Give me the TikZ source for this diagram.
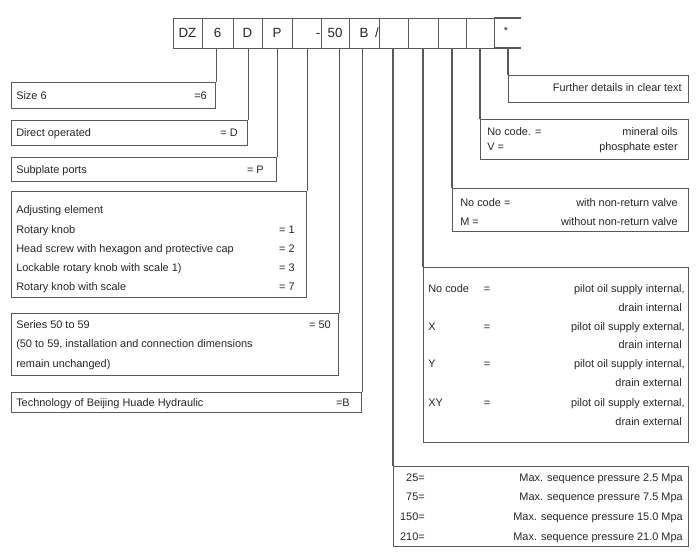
\documentclass[tikz,border=0pt]{standalone}
\usepackage{fontspec}
\setmainfont{Liberation Sans}
\newdimen\px \px=0.75pt
\tikzset{
  ln/.style={draw=black!65, line width=0.8pt},
  box/.style={ln, rectangle, inner sep=0pt, anchor=north west},
  cellbox/.style={ln, rectangle, inner sep=0pt, anchor=north west, minimum height=30\px},
  celltxt/.style={inner sep=0pt, text=black!85, text height=7.2pt, text depth=0pt, font=\fontsize{10}{12}\selectfont},
  lt/.style={anchor=west, inner sep=0pt, text=black!85, text height=6pt, text depth=0pt, font=\fontsize{8.2}{10}\selectfont},
  rt/.style={anchor=east, inner sep=0pt, text=black!85, text height=6pt, text depth=0pt, font=\fontsize{8.2}{10}\selectfont},
  ct/.style={anchor=center, inner sep=0pt, text=black!85, text height=6pt, text depth=0pt, font=\fontsize{8.2}{10}\selectfont},
}
\begin{document}
\begin{tikzpicture}[x=0.75pt,y=-0.75pt]
\useasboundingbox (0,0) rectangle (700,560);
% ---- top code row ----
\node[cellbox, minimum width=29\px] (cDZ) at (173,18) {};
\node[cellbox, minimum width=31\px] (c6) at (202,18) {};
\node[cellbox, minimum width=29\px] (cD) at (233,18) {};
\node[cellbox, minimum width=30\px] (cP) at (262,18) {};
\node[cellbox, minimum width=29\px] (cdash) at (292,18) {};
\node[cellbox, minimum width=28\px] (c50) at (321,18) {};
\node[cellbox, minimum width=30\px] (cB) at (349,18) {};
\node[cellbox, minimum width=29\px] (cE1) at (379,18) {};
\node[cellbox, minimum width=30\px] (cE2) at (408,18) {};
\node[cellbox, minimum width=28\px] (cE3) at (438,18) {};
\node[cellbox, minimum width=28\px] (cE4) at (466,18) {};
\coordinate (starTL) at (494,18);
\coordinate (starTR) at (521,18);
\coordinate (starBL) at (494,48);
\coordinate (starBR) at (521,48);
\draw[ln] (starTL) -- (starTR);
\draw[ln] (starBL) -- (starBR);
\node[celltxt] (tDZ) at (187.5,33) {DZ};
\node[celltxt] (t6) at (217.5,33) {6};
\node[celltxt] (tD) at (247.5,33) {D};
\node[celltxt] (tP) at (277,33) {P};
\node[celltxt] (tdash) at (318,33) {-};
\node[celltxt] (t50) at (335,33) {50};
\node[celltxt] (tB) at (364,33) {B};
\node[celltxt] (tslash) at (377,33) {/};
\node[celltxt, font=\fontsize{8}{10}\selectfont] (tstar) at (506,30) {*};
% ---- left boxes ----
\node[box, minimum width=204\px, minimum height=26\px] (size) at (11,82) {};
\node[lt] (size-l) at (16,95) {Size 6};
\node[rt] (size-r) at (207,95) {=6};

\node[box, minimum width=236\px, minimum height=25\px] (direct) at (11,120) {};
\node[lt] (direct-l) at (16,132.5) {Direct operated};
\node[rt] (direct-r) at (238,132.5) {= D};

\node[box, minimum width=265\px, minimum height=24\px] (sub) at (11,157) {};
\node[lt] (sub-l) at (16,169) {Subplate ports};
\node[rt] (sub-r) at (264,169) {= P};

\node[box, minimum width=295\px, minimum height=106\px] (adj) at (11,191) {};
\node[lt] (adj-1) at (16,209) {Adjusting element};
\node[lt] (adj-2) at (16,229) {Rotary knob};
\node[rt] (adj-2r) at (295,229) {= 1};
\node[lt] (adj-3) at (16,248) {Head screw with hexagon and protective cap};
\node[rt] (adj-3r) at (295,248) {= 2};
\node[lt] (adj-4) at (16,267) {Lockable rotary knob with scale 1)};
\node[rt] (adj-4r) at (295,267) {= 3};
\node[lt] (adj-5) at (16,286) {Rotary knob with scale};
\node[rt] (adj-5r) at (295,286) {= 7};

\node[box, minimum width=327\px, minimum height=62\px] (ser) at (11,313) {};
\node[lt] (ser-1) at (16,324) {Series 50 to 59};
\node[rt] (ser-1r) at (331,324) {= 50};
\node[lt] (ser-2) at (16,343) {(50 to 59, installation and connection dimensions};
\node[lt] (ser-3) at (16,363) {remain unchanged)};

\node[box, minimum width=350\px, minimum height=20\px] (tech) at (11,392) {};
\node[lt] (tech-l) at (16,402) {Technology of Beijing Huade Hydraulic};
\node[rt] (tech-r) at (350,402) {=B};
% ---- right boxes ----
\node[box, minimum width=180\px, minimum height=27\px] (fur) at (508,75) {};
\node[rt] (fur-t) at (682,88) {Further details in clear text};

\node[box, minimum width=208\px, minimum height=40\px] (fluid) at (480,119) {};
\node[lt] (fluid-1) at (487,131) {No code. =};
\node[rt] (fluid-1r) at (678,131) {mineral oils};
\node[lt] (fluid-2) at (487,147) {V =};
\node[rt] (fluid-2r) at (678,147) {phosphate ester};

\node[box, minimum width=236\px, minimum height=43\px] (nrv) at (452,188) {};
\node[lt] (nrv-1) at (460,202) {No code =};
\node[rt] (nrv-1r) at (678,202) {with non-return valve};
\node[lt] (nrv-2) at (460,221) {M =};
\node[rt] (nrv-2r) at (678,221) {without non-return valve};

\node[box, minimum width=265\px, minimum height=175\px] (pil) at (423,267) {};
\node[lt] (pil-1) at (428,288) {No code};
\node[ct] (pil-1e) at (487,288) {=};
\node[rt] (pil-1r) at (685,288) {pilot oil supply internal,};
\node[rt] (pil-2r) at (682,307) {drain internal};
\node[lt] (pil-3) at (428,326) {X};
\node[ct] (pil-3e) at (487,326) {=};
\node[rt] (pil-3r) at (685,326) {pilot oil supply external,};
\node[rt] (pil-4r) at (682,344) {drain internal};
\node[lt] (pil-5) at (428,363) {Y};
\node[ct] (pil-5e) at (487,363) {=};
\node[rt] (pil-5r) at (685,363) {pilot oil supply internal,};
\node[rt] (pil-6r) at (682,382) {drain external};
\node[lt] (pil-7) at (428,402) {XY};
\node[ct] (pil-7e) at (487,402) {=};
\node[rt] (pil-7r) at (685,402) {pilot oil supply external,};
\node[rt] (pil-8r) at (682,421) {drain external};

\node[box, minimum width=295\px, minimum height=80\px] (pr) at (393,466) {};
\node[rt] (pr-1) at (425,477) {25=};
\node[rt] (pr-1r) at (683,477) {Max. sequence pressure 2.5 Mpa};
\node[rt] (pr-2) at (425,496) {75=};
\node[rt] (pr-2r) at (683,496) {Max. sequence pressure 7.5 Mpa};
\node[rt] (pr-3) at (425,516) {150=};
\node[rt] (pr-3r) at (683,516) {Max. sequence pressure 15.0 Mpa};
\node[rt] (pr-4) at (425,536) {210=};
\node[rt] (pr-4r) at (683,536) {Max. sequence pressure 21.0 Mpa};
% ---- connectors ----
\draw[ln] (size.north east) -- (size.north east |- c6.south);
\draw[ln] (direct.north east) -- (direct.north east |- cD.south);
\draw[ln] (sub.north east) -- (sub.north east |- cP.south);
\draw[ln] (adj.north east) -- (adj.north east |- cdash.south);
\draw[ln] (ser.north east) -- (ser.north east |- c50.south);
\draw[ln] (tech.north east) -- (tech.north east |- cB.south);
\draw[ln] (pr.north west) -- (pr.north west |- cE1.south);
\draw[ln] (pil.north west) -- (pil.north west |- cE2.south);
\draw[ln] (nrv.north west) -- (nrv.north west |- cE3.south);
\draw[ln] (fluid.north west) -- (fluid.north west |- cE4.south);
\draw[ln] (fur.north west) -- (fur.north west |- starBL);
\end{tikzpicture}
\end{document}
